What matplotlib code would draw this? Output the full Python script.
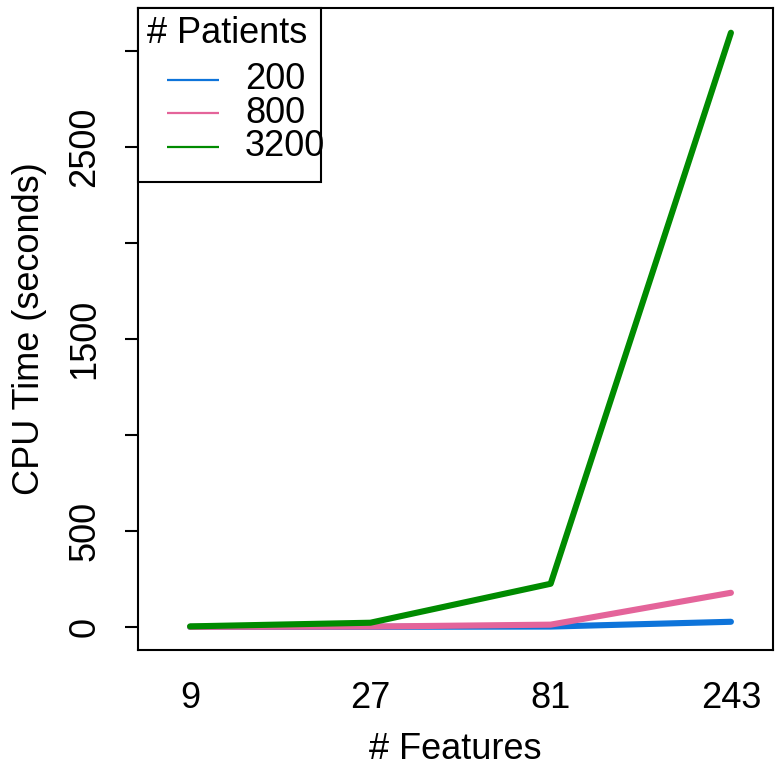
import matplotlib
matplotlib.use("Agg")
import matplotlib.pyplot as plt
from matplotlib.patches import Rectangle

plt.rcParams['font.family'] = ['Liberation Sans', 'DejaVu Sans']

features = [9, 27, 81, 243]
feature_labels = ['9', '27', '81', '243']
patients = ['200', '800', '3200']
cpu_200 = [0.3, 0.8, 2, 27]
cpu_800 = [0.5, 2, 12, 178]
cpu_3200 = [3, 22, 225, 3095]
series = [cpu_200, cpu_800, cpu_3200]
colors = ['#0E74DA', '#E4649A', '#008B00']
yticks = [0, 500, 1000, 1500, 2000, 2500, 3000]
ytick_labels = ['0', '500', '', '1500', '', '2500', '']

fig = plt.figure(figsize=(7.75, 7.75), dpi=100)
ax = fig.add_axes([0.178, 0.1613, 0.8194, 0.8284])

for vals, c in zip(series, colors):
    ax.plot(features, vals, color=c, lw=4.4, solid_capstyle='round', solid_joinstyle='round')

ax.set_xscale('log')
ax.set_xlim(6.55, 314)
ax.set_ylim(-120, 3224)
ax.set_xticks(features)
ax.set_xticklabels(feature_labels)
ax.xaxis.set_minor_locator(matplotlib.ticker.NullLocator())
ax.set_yticks(yticks)
ax.set_yticklabels(ytick_labels, rotation=90, va='center')

ax.tick_params(axis='x', length=0, pad=22, labelsize=26)
ax.tick_params(axis='y', length=9.5, width=1.5, pad=16, labelsize=26, direction='out')
for s in ax.spines.values():
    s.set_linewidth(1.5)

ax.set_xlabel('# Features', fontsize=26, labelpad=12)
ax.set_ylabel('CPU Time (seconds)', fontsize=26, labelpad=15)

# Legend drawn in axes coordinates (R-style legend box)
tr = ax.transAxes
ax.add_patch(Rectangle((0, 0.729), 0.288, 0.271, transform=tr, facecolor='white',
                       edgecolor='black', lw=1.5, zorder=5, clip_on=False))
ax.text(0.0142, 0.961, '# Patients', transform=tr, fontsize=26, ha='left', va='center',
        zorder=6)
entry_y = [0.888, 0.8364, 0.7835]
for lab, c, yy in zip(patients, colors, entry_y):
    ax.plot([0.0457, 0.1276], [yy, yy], transform=tr, color=c, lw=1.6, zorder=6,
            solid_capstyle='butt')
    ax.text(0.1685, yy, lab, transform=tr, fontsize=26, ha='left', va='center', zorder=6)

fig.savefig('out.png', dpi=100)
